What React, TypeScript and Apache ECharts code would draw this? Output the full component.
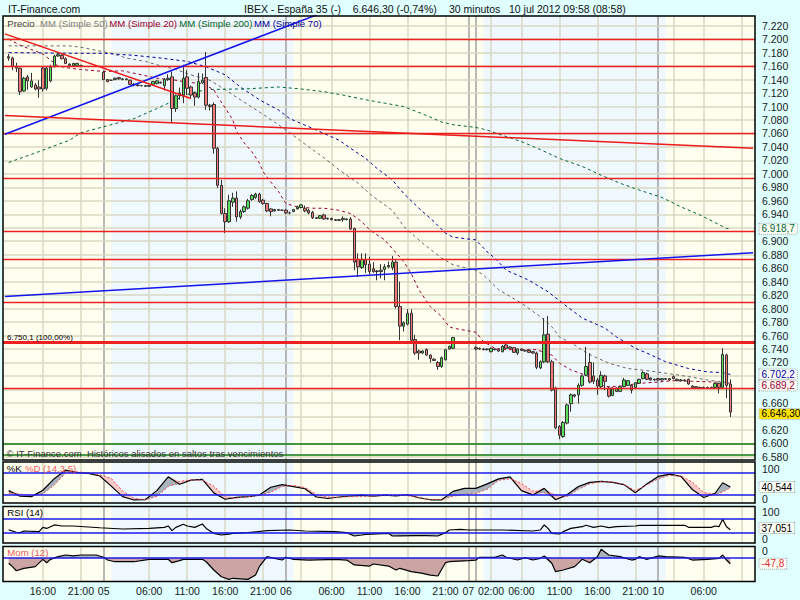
import React, { useEffect, useRef } from 'react';
import * as echarts from 'echarts';

const FONT = '"Liberation Sans", Arial, Helvetica, sans-serif';

// ---- time axis structure (half-hour slots) ----
const SESSIONS: [string, string, string][] = [
  ['07-04', '11:00', '23:30'],
  ['07-05', '00:00', '23:30'],
  ['07-06', '00:00', '23:30'],
  ['07-07', '00:00', '00:30'],
  ['07-09', '00:00', '23:30'],
  ['07-10', '00:00', '12:30'],
];
const FIRST_BAR = '07-04 11:30';

const X_TICKS: [string, string][] = [
  ['07-04 16:00', '16:00'], ['07-04 21:00', '21:00'], ['07-05 00:00', '05'],
  ['07-05 06:00', '06:00'], ['07-05 11:00', '11:00'], ['07-05 16:00', '16:00'],
  ['07-05 21:00', '21:00'], ['07-06 00:00', '06'], ['07-06 06:00', '06:00'],
  ['07-06 11:00', '11:00'], ['07-06 16:00', '16:00'], ['07-06 21:00', '21:00'],
  ['07-07 00:00', '07'], ['07-09 02:00', '02:00'], ['07-09 06:00', '06:00'],
  ['07-09 11:00', '11:00'], ['07-09 16:00', '16:00'], ['07-09 21:00', '21:00'],
  ['07-10 00:00', '10'], ['07-10 06:00', '06:00'],
];
const V_GRID = [
  '07-04 16:00', '07-04 21:00', '07-05 06:00', '07-05 11:00', '07-05 16:00', '07-05 21:00',
  '07-06 02:00', '07-06 06:00', '07-06 11:00', '07-06 16:00', '07-06 21:00',
  '07-09 02:00', '07-09 06:00', '07-09 11:00', '07-09 16:00', '07-09 21:00',
  '07-10 02:00', '07-10 06:00', '07-10 11:00',
];
const DAY_LINES = ['07-05 00:00', '07-06 00:00', '07-07 00:00', '07-09 00:00', '07-10 00:00'];
const BLUE_BANDS: [string, string][] = [['07-05 01:00', '07-06 01:00'], ['07-09 01:00', '07-10 01:00']];

const MAIN_TICKS = [7220, 7200, 7180, 7160, 7140, 7120, 7100, 7080, 7060, 7040, 7020, 7000, 6980, 6960,
  6940, 6920, 6900, 6880, 6860, 6840, 6820, 6800, 6780, 6760, 6740, 6720, 6700, 6680, 6660, 6640, 6620, 6600, 6580];
const STOCH_TICKS = [0, 100];
const RSI_TICKS = [0, 50, 100];
const MOM_TICKS = [0];

// ---- price bars: [open, close, low, high], one per half hour from 07-04 11:30 ----
const CANDLES: ([number, number, number, number] | null)[] = [
  [7174, 7172, 7168, 7178], [7172, 7159, 7154, 7174], [7159, 7157, 7151, 7165], [7157, 7122, 7117, 7158],
  [7123, 7142, 7122, 7144], [7144, 7138, 7125, 7147], [7129, 7138, 7128, 7150], [7132, 7126, 7124, 7135],
  [7129, 7126, 7113, 7139], [7157, 7126, 7122, 7159], [7127, 7157, 7124, 7159], [7138, 7159, 7136, 7162],
  [7159, 7175, 7158, 7177], [7175, 7177, 7174, 7179], [7176, 7171, 7170, 7178], [7171, 7164, 7163, 7173],
  [7163, 7161, 7158, 7164], [7161, 7164, 7160, 7165], [7161, 7164, 7160, 7165], [7161, 7161, 7160, 7162],
  null, null, null, null, null,
  [7151, 7140, 7139, 7153], [7140, 7137, 7136, 7141], [7139, 7139, 7138, 7140], [7140, 7142, 7139, 7143],
  [7143, 7141, 7140, 7144], [7141, 7140, 7139, 7142], [7140, 7141, 7139, 7142], [7139, 7133, 7132, 7140],
  [7133, 7132, 7130, 7135], [7132, 7131, 7130, 7133], [7131, 7131, 7130, 7132], [7131, 7130, 7129, 7132],
  [7130, 7131, 7129, 7132], [7133, 7137, 7132, 7138], [7134, 7138, 7133, 7139], [7136, 7135, 7134, 7137],
  [7131, 7140, 7124, 7142], [7140, 7142, 7138, 7148], [7144, 7097, 7077, 7152], [7097, 7116, 7092, 7118],
  [7116, 7120, 7110, 7128], [7117, 7142, 7105, 7162], [7144, 7127, 7117, 7154], [7129, 7117, 7113, 7131],
  [7120, 7114, 7101, 7122], [7114, 7137, 7112, 7150], [7135, 7139, 7134, 7149], [7143, 7102, 7095, 7181],
  [7102, 7100, 7094, 7104], [7103, 7038, 7030, 7106], [7038, 6983, 6979, 7040], [6983, 6941, 6940, 6991],
  [6941, 6929, 6912, 6949], [6929, 6960, 6927, 6969], [6958, 6964, 6951, 6972], [6964, 6936, 6929, 6974],
  [6936, 6944, 6933, 6947], [6944, 6951, 6942, 6953], [6949, 6960, 6947, 6963], [6962, 6968, 6960, 6970],
  [6965, 6970, 6963, 6972], [6970, 6959, 6957, 6972], [6961, 6956, 6954, 6963], [6956, 6945, 6943, 6957],
  [6948, 6944, 6937, 6949], [6945, 6947, 6944, 6948], [6947, 6946, 6945, 6948], [6946, 6946, 6945, 6947],
  [6946, 6942, 6940, 6948], [6942, 6942, 6940, 6944], [6944, 6947, 6943, 6948], [6948, 6951, 6947, 6953],
  [6950, 6954, 6949, 6955], [6949, 6945, 6943, 6953], [6946, 6942, 6940, 6948], [6943, 6935, 6933, 6945],
  [6935, 6934, 6933, 6936], [6934, 6938, 6933, 6939], [6939, 6933, 6932, 6941], [6933, 6934, 6932, 6935],
  [6934, 6932, 6931, 6935], [6932, 6931, 6930, 6933], [6931, 6932, 6930, 6933], [6932, 6934, 6929, 6937],
  [6933, 6932, 6931, 6934], [6933, 6918, 6917, 6936], [6919, 6869, 6857, 6920], [6873, 6862, 6847, 6882],
  [6861, 6873, 6859, 6882], [6872, 6865, 6853, 6882], [6866, 6855, 6851, 6877], [6859, 6855, 6853, 6869],
  [6856, 6855, 6842, 6857], [6855, 6857, 6845, 6866], [6858, 6862, 6842, 6866], [6862, 6864, 6860, 6870],
  [6861, 6869, 6857, 6878], [6869, 6803, 6800, 6872], [6803, 6774, 6753, 6840], [6774, 6779, 6766, 6781],
  [6777, 6793, 6775, 6799], [6793, 6753, 6752, 6799], [6754, 6734, 6731, 6761], [6737, 6734, 6724, 6739],
  [6734, 6737, 6733, 6738], [6739, 6731, 6730, 6741], [6731, 6726, 6720, 6732], [6725, 6723, 6722, 6726],
  [6720, 6714, 6709, 6722], [6714, 6727, 6712, 6729], [6724, 6739, 6723, 6740], [6740, 6744, 6739, 6745],
  [6741, 6757, 6740, 6758],
  null, null, null, null, null,
  [6742, 6740, 6738, 6744], [6741, 6740, 6739, 6742], [6740, 6739, 6738, 6741], [6739, 6740, 6738, 6741],
  [6736, 6741, 6735, 6742], [6740, 6739, 6738, 6741], [6739, 6737, 6736, 6740], [6736, 6744, 6735, 6746],
  [6746, 6741, 6740, 6748], [6743, 6741, 6740, 6744], [6742, 6735, 6734, 6743], [6734, 6740, 6731, 6741],
  [6740, 6738, 6737, 6741], [6738, 6737, 6736, 6739], [6738, 6735, 6734, 6739], [6736, 6734, 6733, 6737],
  [6734, 6713, 6710, 6736], [6712, 6721, 6710, 6723], [6721, 6761, 6719, 6786], [6762, 6721, 6719, 6789],
  [6721, 6679, 6677, 6724], [6682, 6623, 6621, 6684], [6625, 6612, 6606, 6627], [6610, 6631, 6608, 6633],
  [6630, 6657, 6628, 6659], [6659, 6672, 6647, 6674], [6672, 6670, 6668, 6673], [6672, 6686, 6659, 6689],
  [6686, 6700, 6684, 6702], [6701, 6714, 6700, 6743], [6720, 6691, 6689, 6734], [6700, 6692, 6688, 6720],
  [6694, 6685, 6672, 6697], [6684, 6701, 6682, 6707], [6700, 6692, 6679, 6702], [6682, 6670, 6668, 6684],
  [6671, 6682, 6670, 6683], [6677, 6682, 6676, 6683], [6677, 6684, 6676, 6685], [6684, 6694, 6683, 6697],
  [6686, 6693, 6685, 6694], [6686, 6679, 6674, 6688], [6683, 6690, 6682, 6691], [6689, 6695, 6688, 6696],
  [6696, 6705, 6695, 6707], [6703, 6695, 6694, 6705], [6697, 6694, 6693, 6698], [6694, 6695, 6693, 6696],
  [6696, 6694, 6693, 6697], [6694, 6696, 6693, 6697], [6696, 6695, 6694, 6697], [6696, 6694, 6693, 6697],
  [6699, 6696, 6695, 6701], [6695, 6693, 6692, 6696], [6693, 6694, 6692, 6695], [6694, 6693, 6692, 6695],
  [6695, 6688, 6687, 6696], [6685, 6683, 6682, 6686], [6684, 6682, 6681, 6685], [6683, 6682, 6681, 6684],
  [6683, 6683, 6682, 6684], [6683, 6682, 6681, 6684], [6682, 6683, 6681, 6684], [6683, 6689, 6682, 6690],
  [6689, 6683, 6674, 6690], [6683, 6732, 6681, 6741], [6731, 6686, 6667, 6733], [6688, 6646.3, 6639, 6695],
];

// ---- moving averages, [bar, value] ----
const MA50 = [[0, 7190], [16, 7190], [19, 7188], [27, 7179], [31, 7172], [36, 7167], [39, 7162], [44, 7155], [48, 7147],
  [53, 7139], [57, 7125], [61, 7110], [66, 7092], [70, 7077], [74, 7061], [79, 7040], [83, 7024], [87, 7006], [92, 6986],
  [96, 6966], [101, 6946], [104, 6922], [109, 6897], [114, 6875], [117, 6865], [123, 6857], [125, 6850], [129, 6828],
  [135, 6808], [140, 6788], [143, 6773], [145, 6758], [149, 6746], [151, 6738], [154, 6729], [158, 6719], [163, 6711],
  [168, 6708], [173, 6704], [179, 6699], [184, 6694], [188, 6691], [190, 6690]];
const MA20 = [[0, 7200], [3, 7191], [9, 7178], [13, 7160], [16, 7157], [19, 7155], [25, 7152], [30, 7153], [35, 7147],
  [39, 7142], [43, 7140], [47, 7136], [51, 7134], [54, 7125], [55, 7115], [57, 7098], [59, 7080], [60, 7063], [62, 7046],
  [64, 7033], [66, 7016], [67, 7003], [69, 6988], [71, 6974], [73, 6956], [76, 6951], [80, 6949], [83, 6949], [87, 6946],
  [90, 6941], [93, 6929], [95, 6917], [99, 6902], [101, 6889], [104, 6870], [106, 6852], [108, 6828], [111, 6803],
  [114, 6788], [116, 6773], [117, 6771], [123, 6765], [125, 6751], [128, 6741], [131, 6739], [136, 6739], [139, 6739],
  [143, 6731], [145, 6719], [148, 6709], [150, 6705], [152, 6701], [154, 6694], [156, 6686], [158, 6684], [161, 6685],
  [166, 6689], [171, 6691], [175, 6693], [180, 6692], [186, 6691], [188, 6690], [190, 6689.2]];
const MA70 = [[0, 7180], [19, 7179], [25, 7179], [33, 7176], [40, 7172], [47, 7167], [52, 7159], [57, 7147], [61, 7129],
  [66, 7110], [71, 7095], [74, 7082], [79, 7070], [83, 7060], [87, 7050], [90, 7038], [94, 7023], [97, 7008], [101, 6991],
  [104, 6971], [108, 6949], [112, 6929], [115, 6912], [117, 6906], [123, 6902], [126, 6884], [128, 6875], [131, 6857],
  [137, 6842], [142, 6825], [147, 6803], [151, 6786], [157, 6771], [160, 6758], [165, 6741], [168, 6734], [173, 6721],
  [179, 6711], [184, 6706], [188, 6705], [190, 6702.2]];
const MA200 = [[0, 7017], [7, 7031], [16, 7050], [19, 7061], [25, 7070], [33, 7082], [39, 7097], [44, 7110], [48, 7120],
  [52, 7125], [59, 7126], [62, 7126], [71, 7129], [77, 7126], [83, 7122], [88, 7117], [94, 7110], [99, 7105], [104, 7100],
  [109, 7089], [114, 7077], [117, 7073], [123, 7069], [126, 7065], [129, 7059], [135, 7048], [140, 7036], [145, 7023],
  [151, 7011], [156, 6998], [161, 6986], [166, 6976], [172, 6965], [177, 6951], [182, 6939], [189, 6919], [190, 6918.7]];

// ---- drawn levels and trend lines ----
const RED_LEVELS = [7200, 7160, 7060, 6993.4, 6914.1, 6873.2, 6809.3, 6681.6];
const FIB_100 = 6750.1;
const GREEN_LEVELS = [6600, 6583.6];
const TRENDS: { from: [string, number]; to: [string, number]; color: string }[] = [
  { from: ['07-04 11:00', 7058.8], to: ['07-06 04:30', 7238.0], color: '#1414ee' },
  { from: ['07-04 11:00', 6817.8], to: ['07-10 12:30', 6882.9], color: '#1414ee' },
  { from: ['07-04 11:00', 7207.8], to: ['07-05 11:30', 7111.8], color: '#ee1a1a' },
  { from: ['07-04 11:00', 7086.8], to: ['07-10 12:30', 7037.9], color: '#ee1a1a' },
];

// ---- Stochastic %K / %D (14,3,5) ----
const STOCH_BARS = [0, 3, 6, 9, 12, 15, 18, 21, 24, 27, 30, 33, 36, 39, 42, 45, 48, 51, 54, 57, 60, 63, 66, 69, 72, 75,
  78, 81, 84, 87, 90, 93, 96, 99, 102, 105, 108, 111, 114, 117, 120, 123, 126, 129, 132, 135, 138, 141, 144, 147, 150,
  153, 156, 159, 162, 165, 168, 171, 174, 177, 180, 183, 186, 188, 190];
const STOCH_K = [31, 16, 15, 32, 63, 86, 79, 77, 70, 43, 15, 6, 7, 31, 68, 48, 59, 61, 25, 8, 13, 15, 19, 40, 47, 41.5,
  36, 14, 10, 14, 16.6, 19, 16, 19, 17, 20, 12, 6.5, 6.5, 29, 37, 37, 49, 62.5, 68, 31, 19.5, 37, 6.5, 20, 42, 53, 55.5,
  53, 47, 25.5, 49, 69, 75, 69, 34, 12.5, 24, 52, 40.544];
const STOCH_D = [24, 22, 18, 22, 46, 78, 81, 79, 73, 64, 30, 10.5, 6.5, 15.5, 42, 56, 59.4, 59, 43, 14.5, 11, 15, 18.5,
  26.5, 42, 45, 39.5, 21, 14, 13, 14.8, 15.5, 16.8, 17.5, 18.4, 17.5, 13, 7.3, 6.5, 16, 20.5, 23.7, 34.4, 58.5, 62.5, 50,
  30, 25.5, 20, 14.8, 34.5, 49.3, 55, 54, 48, 30.8, 46, 62.5, 72, 70, 54, 25.8, 20.4, 27, 38.9];

// ---- RSI (14) ----
const RSI = [[0, 37], [2, 30], [3, 29], [4, 33.7], [8, 31.8], [9, 44], [10, 41], [12, 51], [14, 48], [17, 48], [24, 43],
  [30, 39.4], [37, 41], [41, 44], [42, 48], [43, 34.7], [44, 44], [46, 52.8], [47, 48], [49, 44], [51, 53.7], [52, 41],
  [54, 27], [56, 22.3], [58, 25], [59, 27], [63, 29], [68, 34.7], [74, 36.6], [78, 33.7], [86, 31.8], [89, 29], [91, 19.4],
  [93, 22.3], [94, 24.2], [100, 27], [101, 19.4], [103, 20], [107, 20.4], [110, 20.4], [113, 19.4], [115, 29], [116, 36.6],
  [119, 38.5], [121, 36.6], [130, 36.6], [138, 33.7], [140, 36.6], [141, 50.9], [142, 41.3], [143, 27], [145, 25.1],
  [146, 31.8], [148, 41.3], [151, 46], [152, 50], [154, 44.2], [156, 48], [158, 43.2], [160, 46], [165, 48], [166, 50],
  [173, 50], [178, 50], [179, 44.2], [185, 44.2], [186, 48], [187, 46], [188, 67], [189, 46], [190, 37.051]];

// ---- Momentum (12) ----
const MOM = [[0, -44], [1, -72], [2, -106], [4, -86], [7, -72], [9, -11], [10, -40], [11, -11], [13, 11], [15, 25],
  [17, 17], [19, 25], [23, 25], [25, 6], [26, -17], [28, -31], [33, -31], [37, -11], [42, -11], [43, -39], [45, -22],
  [46, -11], [51, -11], [52, -31], [54, -100], [56, -156], [58, -178], [59, -169], [63, -178], [65, -142], [66, -72],
  [68, 11], [70, -3], [72, -17], [73, 6], [75, -11], [79, -17], [86, -11], [89, -17], [91, -58], [95, -67], [96, -50],
  [100, -67], [102, -100], [103, -86], [106, -114], [109, -128], [111, -142], [113, -150], [115, -39], [116, -31],
  [121, -22], [123, -17], [124, 6], [128, 6], [130, 25], [131, 6], [134, -17], [136, 3], [138, -17], [140, -3], [141, 17],
  [143, -44], [144, -114], [146, -100], [149, -72], [151, -11], [153, -39], [155, 11], [156, 72], [158, 25], [161, 11],
  [164, -17], [165, -11], [166, 11], [168, -11], [171, 17], [173, 11], [178, 6], [180, -17], [184, -11], [187, -3],
  [188, 25], [189, -17], [190, -47.8]];

// ---------------------------------------------------------------------------
const BEIGE = '#d8d8c2';
const DAY_GRAY = '#a0a0a0';
const YELLOW_BG = '#fffff0';
const BLUE_BG = '#f0f8ff';
const LEVEL_BLUE = '#1a1aee';
const TXT = '#1a1a1a';

function buildCategories(): string[] {
  const toMin = (s: string) => { const [h, m] = s.split(':').map(Number); return h * 60 + m; };
  const out: string[] = [];
  for (const [day, from, to] of SESSIONS) {
    for (let t = toMin(from); t <= toMin(to); t += 30) {
      out.push(`${day} ${String(Math.floor(t / 60)).padStart(2, '0')}:${String(t % 60).padStart(2, '0')}`);
    }
  }
  return out;
}
const CATS = buildCategories();
const BASE = CATS.indexOf(FIRST_BAR);
const X_LABEL_MAP: Record<string, string> = Object.fromEntries(X_TICKS);

function formatEs(v: number, d: number): string {
  const neg = v < 0;
  const s = Math.abs(v).toFixed(d);
  const [int, frac] = s.split('.');
  const intF = int.replace(/\B(?=(\d{3})+(?!\d))/g, '.');
  return (neg ? '-' : '') + intF + (frac ? ',' + frac : '');
}

const GRIDS = [
  { top: 16, height: 444 },
  { top: 462, height: 41 },
  { top: 506.5, height: 36.5 },
  { top: 546.5, height: 35 },
];

// y axes: [data axis, label axis] per panel
const Y_DEFS = [
  { grid: 0, min: 6575.2, max: 7234.4, ticks: MAIN_TICKS, fmt: (v: number) => formatEs(v, 0) },
  { grid: 1, min: -2.1, max: 107.5, ticks: null },
  { grid: 1, min: -13.2, max: 122.1, ticks: STOCH_TICKS, fmt: (v: number) => String(v) },
  { grid: 2, min: -0.6, max: 103.7, ticks: null },
  { grid: 2, min: -14.8, max: 120.4, ticks: RSI_TICKS, fmt: (v: number) => String(v) },
  { grid: 3, min: -195.8, max: 95.8, ticks: null },
  { grid: 3, min: -100, max: 14.75, ticks: MOM_TICKS, fmt: (v: number) => String(v) },
];

function buildOption(): any {
  const k = (i: number) => BASE + i;
  const pts = (arr: number[][]) => arr.map(([i, v]) => [k(i), v]);

  const candleData = CATS.map((_, idx) => {
    const c = CANDLES[idx - BASE];
    return c ? [c[0], c[1], c[2], c[3]] : ['-', '-', '-', '-'];
  });

  const vLines = [
    ...V_GRID.map((c) => ({ xAxis: c, lineStyle: { color: BEIGE, width: 1.5, type: 'solid' } })),
    ...DAY_LINES.map((c) => ({ xAxis: c, lineStyle: { color: DAY_GRAY, width: 1.5, type: 'solid' } })),
  ];
  const bandArea = () => ({
    silent: true, z: 1, label: { show: false }, itemStyle: { color: BLUE_BG },
    data: BLUE_BANDS.map(([a, b]) => [{ xAxis: a }, { xAxis: b }]),
  });
  const mkLine = (data: any[], z: number) => ({
    silent: true, z, symbol: ['none', 'none'], label: { show: false }, emphasis: { disabled: true }, data,
  });
  const hidden = { lineStyle: { opacity: 0 }, symbol: 'none', silent: true };

  const xAxis = GRIDS.map((_, g) => ({
    type: 'category', gridIndex: g, data: CATS, boundaryGap: true,
    axisLine: { show: false }, axisTick: { show: false }, splitLine: { show: false },
    axisLabel: g === 3 ? {
      show: true, margin: 4, fontSize: 10.5, color: TXT, fontFamily: FONT,
      interval: (_i: number, val: string) => X_LABEL_MAP[val] !== undefined,
      formatter: (val: string) => X_LABEL_MAP[val] ?? '',
    } : { show: false },
  }));

  const yAxis = Y_DEFS.map((d) => ({
    type: 'value', gridIndex: d.grid, position: 'right', min: d.min, max: d.max,
    axisLine: { show: false }, axisTick: { show: false }, splitLine: { show: false },
    axisLabel: d.ticks ? {
      fontSize: 10.5, lineHeight: 11, color: TXT, fontFamily: FONT, margin: 7,
      customValues: d.ticks, formatter: d.fmt,
    } : { show: false },
  }));

  const maLine = (data: number[][], color: string, dash: number[]) => ({
    type: 'line', xAxisIndex: 0, yAxisIndex: 0, z: 3, data: pts(data), symbol: 'none', silent: true,
    lineStyle: { color, width: 1, type: dash },
  });

  const series: any[] = [];
  // main panel
  series.push({
    ...maLine(MA50, '#666666', [3, 3]),
    markArea: bandArea(),
    markLine: mkLine([...vLines, ...MAIN_TICKS.map((v) => ({ yAxis: v, lineStyle: { color: BEIGE, width: 1.5, type: 'solid' } }))], 2),
  });
  series.push({
    type: 'candlestick', xAxisIndex: 0, yAxisIndex: 0, z: 3, data: candleData, barWidth: 3, silent: true,
    itemStyle: { color: '#5ede5e', color0: '#f07a7a', borderColor: '#333', borderColor0: '#333', borderWidth: 1 },
  });
  series.push(maLine(MA20, '#990033', [3, 3]));
  series.push(maLine(MA70, '#000099', [3, 3]));
  series.push({
    ...maLine(MA200, '#006633', [3, 3]),
    markLine: mkLine([
      ...RED_LEVELS.map((v) => ({ yAxis: v, lineStyle: { color: '#ee2020', width: 1.3, type: 'solid' } })),
      { yAxis: FIB_100, lineStyle: { color: '#ee2020', width: 3, type: 'solid' } },
      ...GREEN_LEVELS.map((v) => ({ yAxis: v, lineStyle: { color: '#107a10', width: 1.5, type: 'solid' } })),
    ], 4),
  });
  TRENDS.forEach((t) => series.push({
    type: 'line', xAxisIndex: 0, yAxisIndex: 0, z: 4, symbol: 'none', silent: true,
    data: [t.from, t.to], lineStyle: { color: t.color, width: 1.5 },
  }));

  // stochastic
  const sx = STOCH_BARS.map((i) => k(i));
  series.push({ type: 'line', xAxisIndex: 1, yAxisIndex: 1, stack: 'st', z: 2, ...hidden,
    data: sx.map((x, j) => [x, Math.min(STOCH_K[j], STOCH_D[j])]) });
  series.push({ type: 'line', xAxisIndex: 1, yAxisIndex: 1, stack: 'st', z: 2, ...hidden,
    areaStyle: { color: '#a9b3bd', opacity: 1 },
    data: sx.map((x, j) => [x, Math.max(STOCH_K[j] - STOCH_D[j], 0)]) });
  series.push({ type: 'line', xAxisIndex: 1, yAxisIndex: 1, stack: 'st', z: 2, ...hidden,
    areaStyle: { color: '#f6c8c8', opacity: 1 },
    data: sx.map((x, j) => [x, Math.max(STOCH_D[j] - STOCH_K[j], 0)]) });
  series.push({ type: 'line', xAxisIndex: 1, yAxisIndex: 1, z: 3, symbol: 'none', silent: true,
    data: sx.map((x, j) => [x, STOCH_K[j]]), lineStyle: { color: '#000', width: 1.2 },
    markArea: bandArea(), markLine: mkLine(vLines, 2) });
  series.push({ type: 'line', xAxisIndex: 1, yAxisIndex: 1, z: 3, symbol: 'none', silent: true,
    data: sx.map((x, j) => [x, STOCH_D[j]]), lineStyle: { color: '#ee5050', width: 1, type: [2, 2] },
    markLine: mkLine([20, 80].map((v) => ({ yAxis: v, lineStyle: { color: LEVEL_BLUE, width: 1.5, type: 'solid' } })), 4) });

  // RSI
  series.push({ type: 'line', xAxisIndex: 2, yAxisIndex: 3, stack: 'rsi', z: 2, ...hidden,
    data: RSI.map(([i, v]) => [k(i), Math.min(v, 30)]),
    markLine: mkLine([30, 70].map((v) => ({ yAxis: v, lineStyle: { color: LEVEL_BLUE, width: 1.5, type: 'solid' } })), 4) });
  series.push({ type: 'line', xAxisIndex: 2, yAxisIndex: 3, stack: 'rsi', z: 2, ...hidden,
    areaStyle: { color: '#a9b3bd', opacity: 1 },
    data: RSI.map(([i, v]) => [k(i), 30 - Math.min(v, 30)]) });
  series.push({ type: 'line', xAxisIndex: 2, yAxisIndex: 3, z: 3, symbol: 'none', silent: true,
    data: pts(RSI), lineStyle: { color: '#000', width: 1.2 }, markArea: bandArea(), markLine: mkLine(vLines, 2) });

  // Momentum
  series.push({ type: 'line', xAxisIndex: 3, yAxisIndex: 5, z: 2, ...hidden,
    areaStyle: { color: '#a9b3bd', opacity: 1 }, data: MOM.map(([i, v]) => [k(i), Math.max(v, 0)]),
    markLine: mkLine([{ yAxis: 0, lineStyle: { color: LEVEL_BLUE, width: 1.5, type: 'solid' } }], 4) });
  series.push({ type: 'line', xAxisIndex: 3, yAxisIndex: 5, z: 2, ...hidden,
    areaStyle: { color: '#cba4a4', opacity: 1 }, data: MOM.map(([i, v]) => [k(i), Math.min(v, 0)]) });
  series.push({ type: 'line', xAxisIndex: 3, yAxisIndex: 5, z: 3, symbol: 'none', silent: true,
    data: pts(MOM), lineStyle: { color: '#000', width: 1.2 }, markArea: bandArea(), markLine: mkLine(vLines, 2) });

  return {
    animation: false,
    backgroundColor: '#e0ffff',
    textStyle: { fontFamily: FONT },
    grid: GRIDS.map((g) => ({ left: 3, right: 45, top: g.top, height: g.height, show: false, containLabel: false })),
    xAxis, yAxis, series,
  };
}

type Box = { axis: number; value: number; text: string; color: string; bg: string; y: number };

function computeBoxes(chart: any): Box[] {
  const last = (arr: number[][]) => arr[arr.length - 1][1];
  const lastBar = CANDLES[CANDLES.length - 1] as number[];
  const boxes: Box[] = [
    { axis: 0, value: last(MA200), text: formatEs(last(MA200), 1), color: '#006633', bg: '#fdfdf6', y: 0 },
    { axis: 0, value: last(MA70), text: formatEs(last(MA70), 1), color: '#0000aa', bg: '#fdfdf6', y: 0 },
    { axis: 0, value: last(MA20), text: formatEs(last(MA20), 1), color: '#990033', bg: '#fdfdf6', y: 0 },
    { axis: 0, value: lastBar[1], text: formatEs(lastBar[1], 2), color: '#000', bg: '#ffe400', y: 0 },
    { axis: 1, value: STOCH_K[STOCH_K.length - 1], text: formatEs(STOCH_K[STOCH_K.length - 1], 3), color: '#000', bg: '#fdfdf6', y: 0 },
    { axis: 3, value: last(RSI), text: formatEs(last(RSI), 3), color: '#000', bg: '#fdfdf6', y: 0 },
    { axis: 5, value: last(MOM), text: formatEs(last(MOM), 1), color: '#e03030', bg: '#fdfdf6', y: 0 },
  ];
  boxes.forEach((b) => { b.y = chart.convertToPixel({ yAxisIndex: b.axis }, b.value) as number; });
  const main = boxes.filter((b) => b.axis === 0).sort((a, b) => a.y - b.y);
  for (let j = 1; j < main.length; j++) {
    if (main[j].y - main[j - 1].y < 11) main[j].y = main[j - 1].y + 11;
  }
  return boxes;
}

// Tick labels lying under a value box are left out; labels just touching a box push it aside a little.
function resolveLabels(chart: any, boxes: Box[]): any[] {
  const SEP = 11;
  return Y_DEFS.map((d, idx) => {
    if (!d.ticks) return {};
    const panelBoxes = boxes.filter((b) => Y_DEFS[b.axis].grid === d.grid);
    const keep = d.ticks.filter((v) => {
      const y = chart.convertToPixel({ yAxisIndex: idx }, v) as number;
      return panelBoxes.every((b) => Math.abs(b.y - y) >= 7);
    });
    keep.forEach((v) => {
      const y = chart.convertToPixel({ yAxisIndex: idx }, v) as number;
      panelBoxes.forEach((b) => {
        const dist = b.y - y;
        if (Math.abs(dist) < SEP) b.y = y + Math.sign(dist) * SEP;
      });
    });
    return { axisLabel: { customValues: keep } };
  });
}

function buildGraphics(chart: any, boxes: Box[]): any[] {
  const T = (x: number, y: number, text: string, size: number, color: string) => ({
    type: 'text', x, y, z: 120, silent: true,
    style: { text, fontSize: size, fill: color, fontFamily: FONT, verticalAlign: 'middle', align: 'left' },
  });
  const els: any[] = [];
  GRIDS.forEach((g) => els.push({ type: 'rect', z: -1, silent: true,
    shape: { x: 3, y: g.top, width: 752, height: g.height }, style: { fill: YELLOW_BG } }));
  GRIDS.forEach((g) => els.push({ type: 'rect', z: 100, silent: true,
    shape: { x: 3, y: g.top, width: 752, height: g.height }, style: { fill: 'none', stroke: '#000', lineWidth: 1.5 } }));

  els.push(T(8, 8.5, 'IT-Finance.com', 10.5, '#111'));
  els.push(T(244, 8.5, 'IBEX - España 35 (-)', 10.5, '#111'));
  els.push(T(352.7, 8.5, `${formatEs(6646.3, 2)} (-0,74%)`, 10.5, '#111'));
  els.push(T(449, 8.5, '30 minutos', 10.5, '#111'));
  els.push(T(509, 8.5, '10 jul 2012 09:58 (08:58)', 10.5, '#111'));

  els.push(T(7.3, 23.3, 'Precio', 9.6, '#444'));
  els.push(T(40, 23.3, 'MM (Simple 50)', 9.6, '#808080'));
  els.push(T(109.3, 23.3, 'MM (Simple 20)', 9.6, '#990033'));
  els.push(T(179.3, 23.3, 'MM (Simple 200)', 9.6, '#006633'));
  els.push(T(254, 23.3, 'MM (Simple 70)', 9.6, '#000099'));

  const fibY = chart.convertToPixel({ yAxisIndex: 0 }, FIB_100) as number;
  els.push(T(7, fibY - 5, `${formatEs(FIB_100, 1)} (100,00%)`, 8, '#000'));
  els.push(T(6.5, 453.3, '© IT-Finance.com  Históricos alisados en saltos tras vencimientos', 9.5, '#333'));

  els.push(T(6.7, 468.5, '%K', 9.6, '#000'));
  els.push(T(25, 468.5, '%D (14,3,5)', 9.6, '#e85a5a'));
  els.push(T(7.3, 512.7, 'RSI (14)', 9.6, '#000'));
  els.push(T(7.3, 552.7, 'Mom (12)', 9.6, '#e85a5a'));

  boxes.forEach((b) => els.push({
    type: 'text', x: 759.5, y: b.y, z: 130, silent: true,
    style: {
      text: b.text, fontSize: 10, lineHeight: 10, fill: b.color, fontFamily: FONT, verticalAlign: 'middle', align: 'left',
      backgroundColor: b.bg, borderColor: '#a8a8a8', borderWidth: 1, borderDash: [1, 1], padding: [0, 2, 0, 2],
    },
  }));
  return els;
}

export default function App() {
  const ref = useRef<HTMLDivElement>(null);
  useEffect(() => {
    if (!ref.current) return;
    const chart = echarts.init(ref.current, undefined, { renderer: 'svg' });
    chart.setOption(buildOption());
    const boxes = computeBoxes(chart);
    const yAxisPatch = resolveLabels(chart, boxes);
    chart.setOption({ yAxis: yAxisPatch, graphic: buildGraphics(chart, boxes) });
    return () => chart.dispose();
  }, []);
  return <div ref={ref} style={{ position: 'fixed', left: 0, top: 0, width: 800, height: 600 }} />;
}
